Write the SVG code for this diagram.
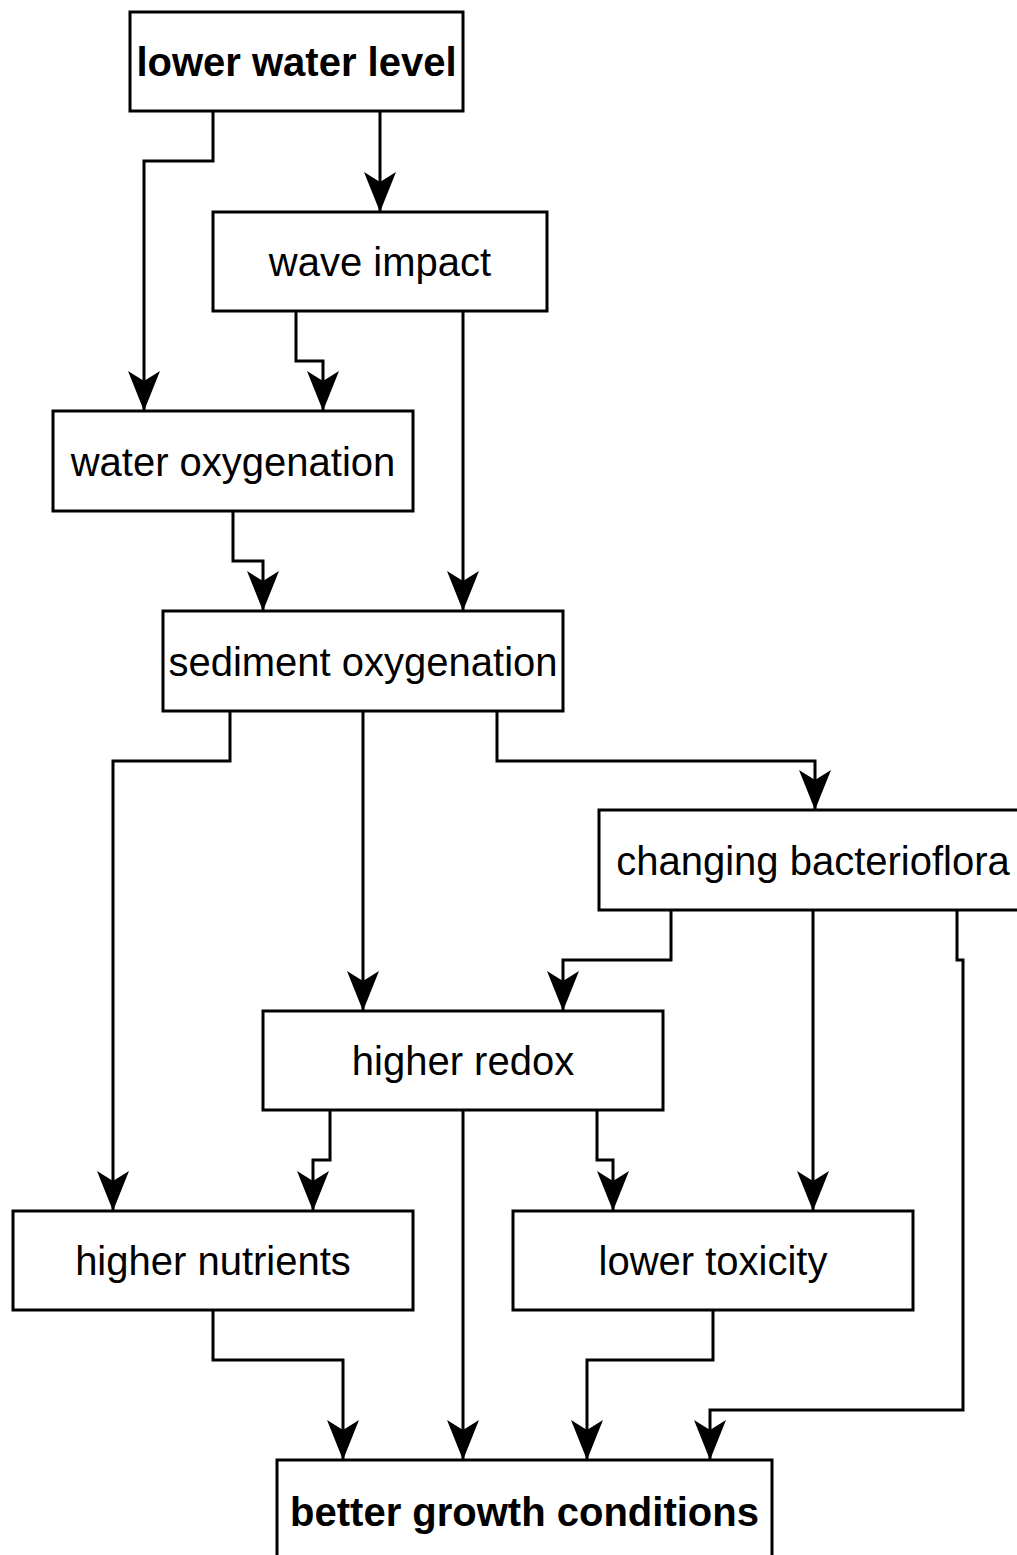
<svg xmlns="http://www.w3.org/2000/svg" width="1017" height="1555" viewBox="0 0 1017 1555">
<style>
.box{fill:#fff;stroke:#000;stroke-width:3}
.t{font-family:"Liberation Sans",Arial,sans-serif;font-size:40px;fill:#000;text-anchor:middle}
.b{font-weight:bold}
.e{fill:none;stroke:#000;stroke-width:3;marker-end:url(#arr)}
</style>
<defs>
<marker id="arr" viewBox="0 0 40 32" refX="39" refY="16" markerWidth="40" markerHeight="32" markerUnits="userSpaceOnUse" orient="auto">
<path d="M0,0 L40,16 L0,32 L10,16 Z" fill="#000"/>
</marker>
</defs>
<rect width="1017" height="1555" fill="#fff"/>
<g id="connectors">
<path class="e" d="M213,111 V161 H144 V410"/>
<path class="e" d="M380,111 V211"/>
<path class="e" d="M296,311 V361 H323 V410"/>
<path class="e" d="M463,311 V610"/>
<path class="e" d="M233,511 V561 H263 V610"/>
<path class="e" d="M230,711 V761 H113 V1210"/>
<path class="e" d="M363,711 V1010"/>
<path class="e" d="M497,711 V761 H815 V809"/>
<path class="e" d="M671,910 V960 H563 V1010"/>
<path class="e" d="M813,910 V1210"/>
<path class="e" d="M957,910 V960 H963 V1410 H710 V1459"/>
<path class="e" d="M330,1110 V1160 H313 V1210"/>
<path class="e" d="M597,1110 V1160 H613 V1210"/>
<path class="e" d="M463,1110 V1459"/>
<path class="e" d="M213,1310 V1360 H343 V1459"/>
<path class="e" d="M713,1310 V1360 H587 V1459"/>
</g>
<g id="n1"><rect class="box" x="130" y="12" width="333" height="99"/><text class="t b" x="296.5" y="76">lower water level</text></g>
<g id="n2"><rect class="box" x="213" y="212" width="334" height="99"/><text class="t" x="380" y="276">wave impact</text></g>
<g id="n3"><rect class="box" x="53" y="411" width="360" height="100"/><text class="t" x="233" y="476">water oxygenation</text></g>
<g id="n4"><rect class="box" x="163" y="611" width="400" height="100"/><text class="t" x="363" y="676">sediment oxygenation</text></g>
<g id="n5"><rect class="box" x="599" y="810" width="430" height="100"/><text class="t" x="813" y="875">changing bacterioflora</text></g>
<g id="n6"><rect class="box" x="263" y="1011" width="400" height="99"/><text class="t" x="463" y="1075">higher redox</text></g>
<g id="n7"><rect class="box" x="13" y="1211" width="400" height="99"/><text class="t" x="213" y="1275">higher nutrients</text></g>
<g id="n8"><rect class="box" x="513" y="1211" width="400" height="99"/><text class="t" x="713" y="1275">lower toxicity</text></g>
<g id="n9"><rect class="box" x="277" y="1460" width="495" height="110"/><text class="t b" x="524.5" y="1526">better growth conditions</text></g>
</svg>
